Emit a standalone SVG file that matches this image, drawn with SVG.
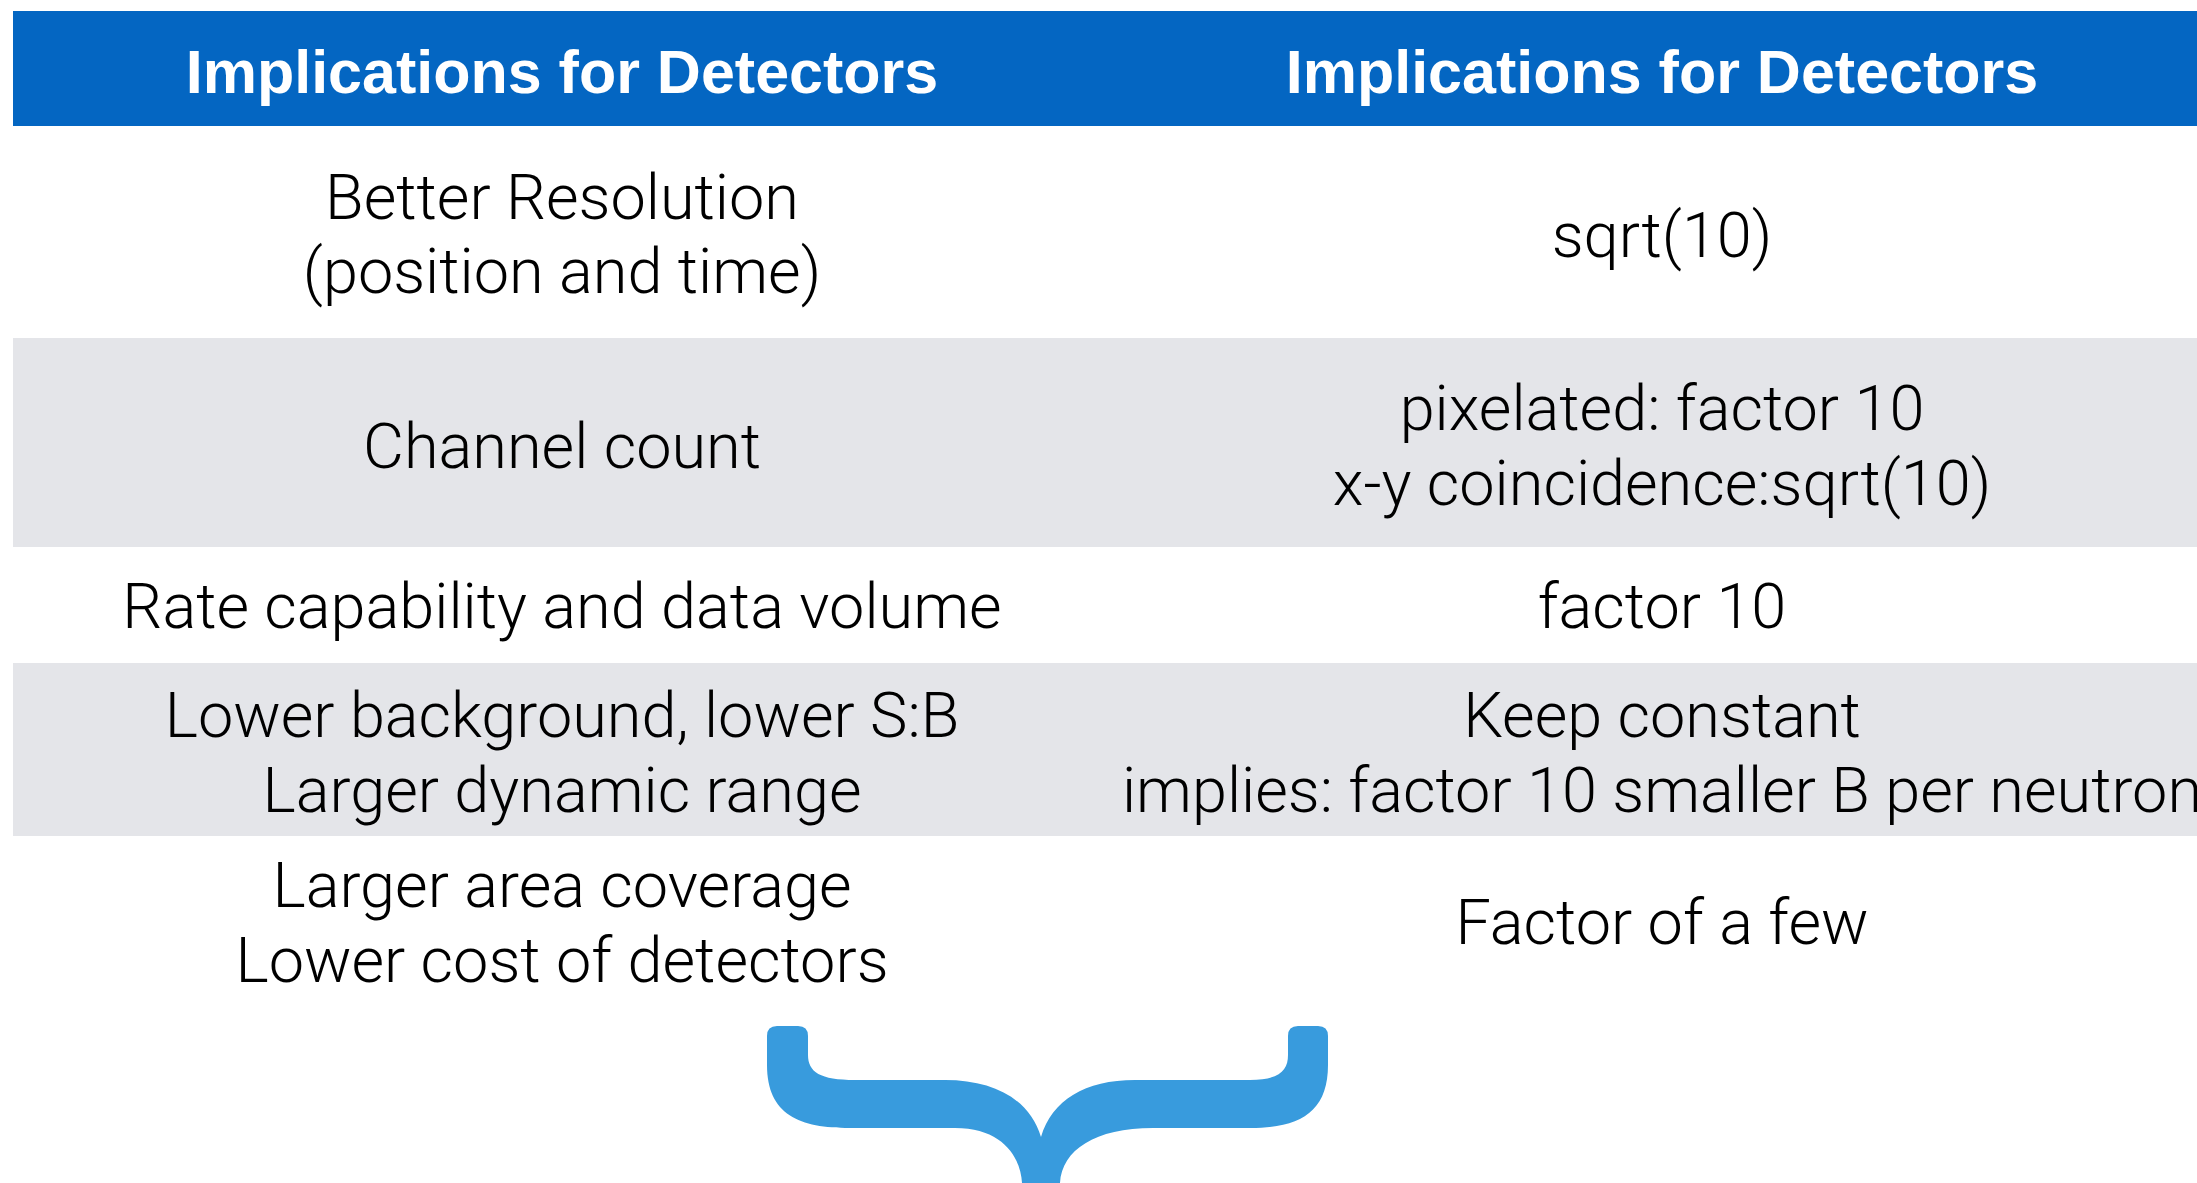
<svg xmlns="http://www.w3.org/2000/svg" width="2197" height="1183" viewBox="0 0 2197 1183">
  <style>
    .band { fill: #E4E5E9; }
    .head { fill: #0466C2; }
    .th { font-family: "Liberation Sans", Arial, Helvetica, sans-serif; font-weight: bold; font-size: 61px; fill: #FFFFFF; text-anchor: middle; }
    .td { font-family: Roboto, "Liberation Sans", Arial, sans-serif; font-weight: 300; font-size: 63px; fill: #000000; text-anchor: middle; }
    .brace { fill: #389BDD; }
  </style>
  <rect x="0" y="0" width="2197" height="1183" fill="#FFFFFF"/>

  <!-- table header -->
  <g id="header">
    <rect class="head" x="13" y="11" width="2184" height="115"/>
    <text class="th" x="562" y="93">Implications for Detectors</text>
    <text class="th" x="1662" y="93">Implications for Detectors</text>
  </g>

  <!-- row 1 -->
  <g id="row-resolution">
    <text class="td" x="562" y="219">Better Resolution</text>
    <text class="td" x="562" y="293">(position and time)</text>
    <text class="td" x="1662" y="257">sqrt(10)</text>
  </g>

  <!-- row 2 -->
  <g id="row-channels">
    <rect class="band" x="13" y="338" width="2184" height="209"/>
    <text class="td" x="562" y="468">Channel count</text>
    <text class="td" x="1662" y="430">pixelated: factor 10</text>
    <text class="td" x="1662" y="505">x-y coincidence:sqrt(10)</text>
  </g>

  <!-- row 3 -->
  <g id="row-rate">
    <text class="td" x="562" y="628">Rate capability and data volume</text>
    <text class="td" x="1662" y="628">factor 10</text>
  </g>

  <!-- row 4 -->
  <g id="row-background">
    <rect class="band" x="13" y="663" width="2184" height="173"/>
    <text class="td" x="562" y="737">Lower background, lower S:B</text>
    <text class="td" x="562" y="812">Larger dynamic range</text>
    <text class="td" x="1662" y="737">Keep constant</text>
    <text class="td" x="1662" y="812">implies: factor 10 smaller B per neutron</text>
  </g>

  <!-- row 5 -->
  <g id="row-area">
    <text class="td" x="562" y="907">Larger area coverage</text>
    <text class="td" x="562" y="982">Lower cost of detectors</text>
    <text class="td" x="1662" y="944">Factor of a few</text>
  </g>

  <!-- downward curly brace -->
  <g id="brace">
    <path class="brace" d="M 767,1036 Q 767,1026 777,1026 L 798,1026 Q 808,1026 808,1036 L 808,1055 C 808,1072 820,1080 855,1080 L 945,1080 C 995,1080 1030,1100 1041,1137 C 1052,1100 1085,1080 1135,1080 L 1250,1080 C 1280,1080 1288,1070 1288,1055 L 1288,1036 Q 1288,1026 1298,1026 L 1318,1026 Q 1328,1026 1328,1036 L 1328,1065 C 1328,1112 1300,1128 1250,1128 L 1153,1128 C 1095,1128 1062,1150 1060,1183 L 1022,1183 C 1021,1160 1005,1128 955,1128 L 850,1128 C 800,1128 767,1115 767,1065 Z"/>
  </g>
</svg>
